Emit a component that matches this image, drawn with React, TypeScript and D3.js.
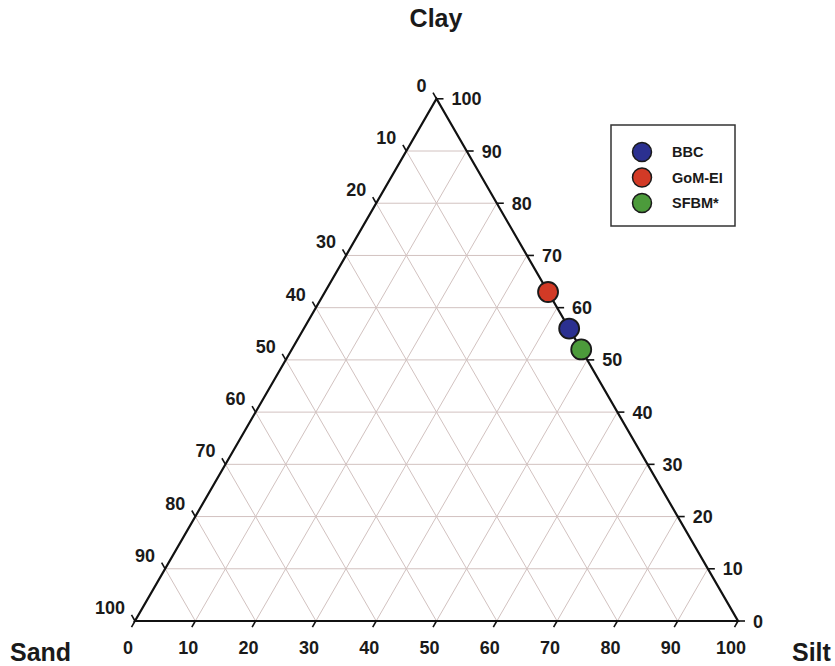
import React from "react";
import * as d3 from "d3";

const samples = ["BBC", "GoM-EI", "SFBM*"];
const sandValues = [0, 0, 0];
const siltValues = [44, 37, 48];
const clayValues = [56, 63, 52];
const sampleColors = ["#2b3090", "#d23a26", "#4c9b3b"];
const tickValues = [0, 10, 20, 30, 40, 50, 60, 70, 80, 90, 100];
const gridValues = [10, 20, 30, 40, 50, 60, 70, 80, 90];
const plotOrder = [1, 0, 2];

const W = 835;
const H = 666;
const left = 135;
const right = 738;
const bottom = 621;
const top = bottom - (right - left) * Math.sqrt(3) / 2;

const xs = d3.scaleLinear().domain([0, 100]).range([left, right]);
const ys = d3.scaleLinear().domain([0, 100]).range([bottom, top]);

function pos(silt: number, clay: number): [number, number] {
  return [xs(silt + clay / 2), ys(clay)];
}

const font = "'Liberation Sans', Arial, sans-serif";
const gridColor = "#d2c2c0";
const tickLen = 7;
const tickFont = 18;

export default function App() {
  const line = d3.line();
  const gridLines: [number, number][][] = [];
  gridValues.forEach((v) => {
    gridLines.push([pos(0, v), pos(100 - v, v)]);
    gridLines.push([pos(v, 0), pos(v, 100 - v)]);
    gridLines.push([pos(100 - v, 0), pos(0, 100 - v)]);
  });

  const ticks: React.ReactNode[] = [];
  tickValues.forEach((v, i) => {
    const [lx, ly] = pos(0, 100 - v);
    ticks.push(
      <line key={"lt" + i} x1={lx} y1={ly} x2={lx - tickLen * 0.5} y2={ly - tickLen * 0.866} stroke="#111" strokeWidth={1.6} />
    );
    ticks.push(
      <text key={"ll" + i} x={lx - 10} y={ly - 7} textAnchor="end" fontSize={tickFont} fontWeight="bold" fill="#1a1a1a" fontFamily={font}>{v}</text>
    );
    const [rx, ry] = pos(100 - v, v);
    ticks.push(
      <line key={"rt" + i} x1={rx} y1={ry} x2={rx + tickLen} y2={ry} stroke="#111" strokeWidth={1.6} />
    );
    ticks.push(
      <text key={"rl" + i} x={rx + 15} y={ry + 6.5} textAnchor="start" fontSize={tickFont} fontWeight="bold" fill="#1a1a1a" fontFamily={font}>{v}</text>
    );
    const [bx, by] = pos(v, 0);
    ticks.push(
      <line key={"bt" + i} x1={bx} y1={by} x2={bx - tickLen * 0.5} y2={by + tickLen * 0.866} stroke="#111" strokeWidth={1.6} />
    );
    ticks.push(
      <text key={"bl" + i} x={bx - 7} y={by + 33} textAnchor="middle" fontSize={tickFont} fontWeight="bold" fill="#1a1a1a" fontFamily={font}>{v}</text>
    );
  });

  const tri = [pos(0, 0), pos(100, 0), pos(0, 100)];

  return (
    <svg width={W} height={H} style={{ position: "absolute", left: 0, top: 0, background: "#fff" }}>
      <rect x={0} y={0} width={W} height={H} fill="#fff" />
      <g>
        {gridLines.map((g, i) => (
          <path key={i} d={line(g) || ""} stroke={gridColor} strokeWidth={1} fill="none" />
        ))}
      </g>
      <path d={(line(tri) || "") + "Z"} fill="none" stroke="#111" strokeWidth={2.2} strokeLinejoin="miter" />
      {ticks}
      <text x={436} y={27} textAnchor="middle" fontSize={25} fontWeight="bold" fill="#1a1a1a" fontFamily={font}>Clay</text>
      <text x={10} y={661} textAnchor="start" fontSize={25} fontWeight="bold" fill="#1a1a1a" fontFamily={font}>Sand</text>
      <text x={792} y={661} textAnchor="start" fontSize={25} fontWeight="bold" fill="#1a1a1a" fontFamily={font}>Silt</text>
      <g>
        {plotOrder.map((i) => {
          const [px, py] = pos(siltValues[i], clayValues[i]);
          return <circle key={samples[i]} cx={px} cy={py} r={10} fill={sampleColors[i]} stroke="#1a1a1a" strokeWidth={1.8} />;
        })}
      </g>
      <g>
        <rect x={611} y={125} width={124} height={101} fill="#fff" stroke="#333" strokeWidth={1.5} />
        {samples.map((s, i) => (
          <g key={s}>
            <circle cx={642} cy={152 + i * 25.5} r={9.5} fill={sampleColors[i]} stroke="#1a1a1a" strokeWidth={1.5} />
            <text x={672} y={157 + i * 25.5} fontSize={14.5} fontWeight="bold" fill="#1a1a1a" fontFamily={font}>{s}</text>
          </g>
        ))}
      </g>
    </svg>
  );
}
